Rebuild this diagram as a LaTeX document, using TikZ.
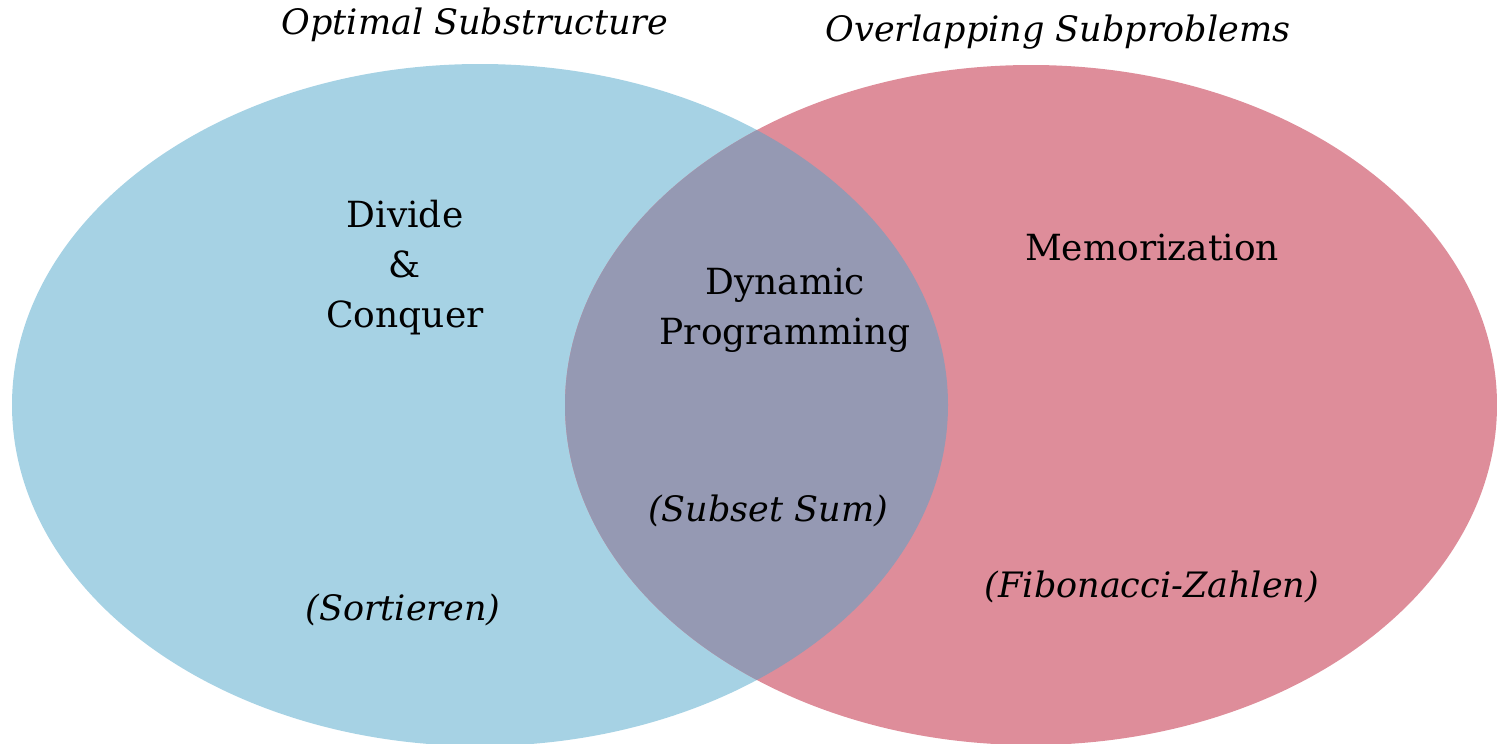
\documentclass[tikz,border=0pt]{standalone}
\usepackage{fontspec}
\setmainfont{DejaVu Serif}
\definecolor{setblue}{HTML}{A6D2E4}
\definecolor{setpink}{HTML}{DE8D9A}
\definecolor{setboth}{HTML}{9599B3}
\tikzset{
  lbl/.style={font=\fontsize{36}{50}\selectfont, align=center, inner sep=0pt, text=black},
  ilbl/.style={lbl, font=\fontsize{35}{50}\selectfont\itshape}
}
\begin{document}
\begin{tikzpicture}[x=1pt,y=-1pt]
\useasboundingbox (0,0) rectangle (1497,744);
% the two sets
\fill[setblue] (480,405) ellipse [x radius=468, y radius=341];
\fill[setpink] (1031,405) ellipse [x radius=466, y radius=340];
% their intersection
\begin{scope}
  \clip (480,405) ellipse [x radius=468, y radius=341];
  \fill[setboth] (1031,405) ellipse [x radius=466, y radius=340];
\end{scope}
% headings
\node[ilbl] (optsub) at (475,25) {Optimal Substructure};
\node[ilbl] (overlap) at (1058,32) {Overlapping Subproblems};
% set contents
\node[lbl] (dc) at (405,268) {Divide\\\&\\Conquer};
\node[lbl] (memo) at (1152,248) {Memorization};
\node[lbl] (dp) at (785,310) {Dynamic\\Programming};
\node[ilbl] (subset) at (768,511) {(Subset Sum)};
\node[ilbl] (sort) at (403,610) {(Sortieren)};
\node[ilbl] (fib) at (1152,587) {(Fibonacci-Zahlen)};
\end{tikzpicture}
\end{document}
